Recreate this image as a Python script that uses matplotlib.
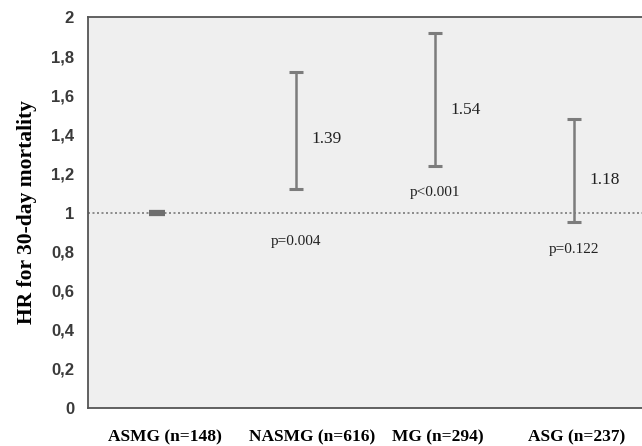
import matplotlib
matplotlib.use("Agg")
import matplotlib.pyplot as plt
from matplotlib.ticker import FixedLocator, FuncFormatter

# groups and hazard ratios
groups = ["ASMG (n=148)", "NASMG (n=616)", "MG (n=294)", "ASG (n=237)"]
hr = [1.00, 1.39, 1.54, 1.18]
ci_low = [1.00, 1.12, 1.24, 0.95]
ci_high = [1.00, 1.72, 1.92, 1.48]
hr_labels = ["", "1.39", "1.54", "1.18"]
p_labels = ["", "p=0.004", "p<0.001", "p=0.122"]
yticks = [0, 0.2, 0.4, 0.6, 0.8, 1, 1.2, 1.4, 1.6, 1.8, 2]

pos = list(range(len(groups)))
# the group names sit a little right of the whiskers in the original
label_pos = [p + d for p, d in zip(pos, [0.06, 0.12, 0.02, 0.02])]

fig = plt.figure(figsize=(6.42, 4.46), dpi=100)
ax = fig.add_axes([0.137, 0.085, 0.863, 0.877])
ax.set_facecolor("#efefef")

ax.axhline(1.0, color="#7a7a7a", linestyle=(0, (1.2, 1.5)), linewidth=1.2, zorder=1)

lo_err = [h - l for h, l in zip(hr, ci_low)]
hi_err = [u - h for h, u in zip(hr, ci_high)]
ax.errorbar(pos, hr, yerr=[lo_err, hi_err], fmt="none", ecolor="#7c7c7c",
            elinewidth=1.8, capsize=4.8, capthick=2.2, zorder=3)
# reference group: just a short thick dash at 1
ax.plot([pos[0]], [hr[0]], marker="_", markersize=11, markeredgewidth=4.5,
        color="#6e6e6e", zorder=3)

for x, h, lo, t, p in zip(pos, hr, ci_low, hr_labels, p_labels):
    if t:
        ax.text(x + 0.11, h - 0.015, t, fontsize=12.5, family="Liberation Serif",
                ha="left", va="center", color="#222222")
    if p:
        py = lo - 0.14
        if abs(py - 1.0) < 0.06:  # would sit on the dotted line, push it below
            py = 1.0 - 0.15
        ax.text(x, py, p, fontsize=11, family="Liberation Serif",
                ha="center", va="center", color="#222222")

ax.set_xlim(-0.496, 3.49)
ax.set_ylim(0, 2)
ax.yaxis.set_major_locator(FixedLocator(yticks))
ax.yaxis.set_major_formatter(FuncFormatter(lambda v, _: ("%g" % v).replace(".", ",")))
ax.set_xticks(label_pos)
ax.set_xticklabels(groups, family="Liberation Serif", fontweight="bold", fontsize=12.5)
ax.tick_params(axis="x", length=0, pad=15)
ax.tick_params(axis="y", length=0, pad=10, labelsize=12, labelcolor="#3a3a3a")
for lab in ax.get_yticklabels():
    lab.set_family("Liberation Sans")
    lab.set_fontweight("bold")

ax.set_ylabel("HR for 30-day mortality", family="Liberation Serif",
              fontweight="bold", fontsize=15.5, labelpad=10)

for side in ["left", "bottom", "top"]:
    ax.spines[side].set_color("#555555")
    ax.spines[side].set_linewidth(1.3)
ax.spines["right"].set_visible(False)

fig.savefig("out.png", dpi=100)
